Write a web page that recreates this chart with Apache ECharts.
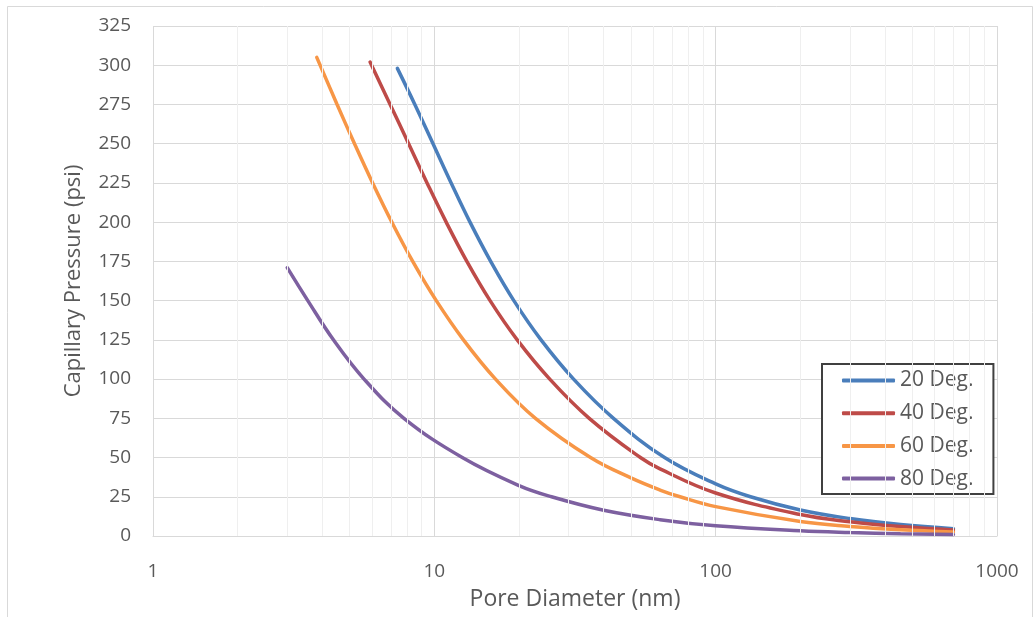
<!DOCTYPE html>
<html>
<head>
<meta charset="utf-8">
<script src="https://cdn.jsdelivr.net/npm/echarts@6/dist/echarts.min.js"></script>
<style>
  html, body { margin: 0; padding: 0; background: #ffffff; }
  #chart { width: 1036px; height: 617px; }
</style>
</head>
<body>
<div id="chart"></div>
<script>
// Capillary pressure (psi) vs pore diameter (nm), one curve per contact angle.
// Each point is [pore diameter, capillary pressure].
const deg20 = [
  [7.39, 298], [8.525, 275], [9.894, 250], [11.475, 225], [13.39, 200],
  [15.86, 175], [19.17, 150], [23.95, 125], [31.26, 100], [43.33, 75],
  [65.82, 50], [100, 33.2], [133, 25], [200, 16.6], [300, 11.1],
  [454, 7.3], [700, 4.7]
];
const deg40 = [
  [5.91, 302], [6.965, 275], [8.104, 250], [9.42, 225], [11.02, 200],
  [13.05, 175], [15.78, 150], [19.71, 125], [25.72, 100], [35.53, 75],
  [54.0, 50], [63.4, 42.8], [100, 27.4], [200, 13.7], [300, 9.1],
  [454, 6.0], [700, 3.9]
];
const deg60 = [
  [3.82, 305], [4.512, 275], [5.204, 250], [6.035, 225], [7.063, 200],
  [8.379, 175], [10.16, 150], [12.69, 125], [16.5, 100], [22.88, 75],
  [35.91, 50], [50, 37.0], [63.4, 29.3], [74.7, 25], [100, 18.7],
  [200, 9.2], [300, 6.1], [454, 4.0], [700, 2.6]
];
const deg80 = [
  [3.0, 171], [3.55, 150], [4.378, 125], [5.625, 100], [7.798, 75],
  [12.57, 50], [20, 32.1], [26.09, 25], [40, 16.4], [63.4, 10.4],
  [100, 6.5], [200, 3.3], [300, 2.2], [454, 1.45], [700, 0.94]
];

const seriesNames = ['20 Deg.', '40 Deg.', '60 Deg.', '80 Deg.'];
const seriesColors = ['#4A7EBB', '#BE4B48', '#F79646', '#7D60A0'];
const seriesData = [deg20, deg40, deg60, deg80];

// Minor vertical gridlines of the log axis (2..9 within each decade)
const minorTicks = [2, 3, 4, 5, 6, 7, 8, 9,
                    20, 30, 40, 50, 60, 70, 80, 90,
                    200, 300, 400, 500, 600, 700, 800, 900];

const FONT = '"Open Sans", Lato, sans-serif';
const TEXT = '#595959';
const GRID = '#d9d9d9';

const chart = echarts.init(document.getElementById('chart'), null, { renderer: 'canvas' });

const lineSeries = seriesData.map((data, i) => ({
  name: seriesNames[i],
  type: 'line',
  data: data,
  smooth: 0.4,
  showSymbol: false,
  symbol: 'none',
  z: 3,
  lineStyle: { color: seriesColors[i], width: 3.5, cap: 'round' },
  itemStyle: { color: seriesColors[i] }
}));

chart.setOption({
  backgroundColor: '#ffffff',
  animation: false,
  textStyle: { fontFamily: FONT },
  graphic: [{
    type: 'rect',
    shape: { x: 7.5, y: 6.5, width: 1025, height: 640 },
    style: { fill: 'none', stroke: GRID, lineWidth: 1 },
    silent: true,
    z: -10
  }],
  grid: { left: 153, right: 39, top: 26, bottom: 81 },
  xAxis: {
    type: 'log',
    logBase: 10,
    min: 1,
    max: 1000,
    name: 'Pore Diameter (nm)',
    nameLocation: 'middle',
    nameGap: 52,
    nameTextStyle: { color: TEXT, fontSize: 23, fontFamily: FONT },
    axisLine: { show: true, lineStyle: { color: GRID, width: 1 } },
    axisTick: { show: false },
    axisLabel: {
      color: TEXT, fontSize: 19, margin: 26, fontFamily: FONT,
      formatter: v => String(Math.round(v))
    },
    splitLine: { show: true, lineStyle: { color: GRID, width: 1 } }
  },
  yAxis: {
    type: 'value',
    min: 0,
    max: 325,
    interval: 25,
    name: 'Capillary Pressure (psi)',
    nameLocation: 'middle',
    nameGap: 68,
    nameTextStyle: { color: TEXT, fontSize: 22, fontFamily: FONT },
    axisLine: { show: false },
    axisTick: { show: false },
    axisLabel: { color: TEXT, fontSize: 19, margin: 22, fontFamily: FONT },
    splitLine: { show: true, lineStyle: { color: GRID, width: 1 } }
  },
  legend: {
    data: seriesNames,
    orient: 'vertical',
    left: 822,
    top: 364,
    padding: [6, 20, 5, 20],
    backgroundColor: '#ffffff',
    borderColor: '#404040',
    borderWidth: 2,
    borderRadius: 0,
    icon: 'roundRect',
    itemWidth: 53,
    itemHeight: 4,
    itemGap: 11.7,
    textStyle: { color: TEXT, fontSize: 21, lineHeight: 20, fontFamily: FONT },
    selectedMode: false
  },
  series: [{
    name: 'minor-grid',
    type: 'line',
    data: [],
    silent: true,
    z: 1,
    markLine: {
      silent: true,
      symbol: 'none',
      label: { show: false },
      lineStyle: { color: '#efefef', width: 1, type: 'solid' },
      data: minorTicks.map(v => ({ xAxis: v }))
    }
  }].concat(lineSeries)
});
</script>
</body>
</html>
